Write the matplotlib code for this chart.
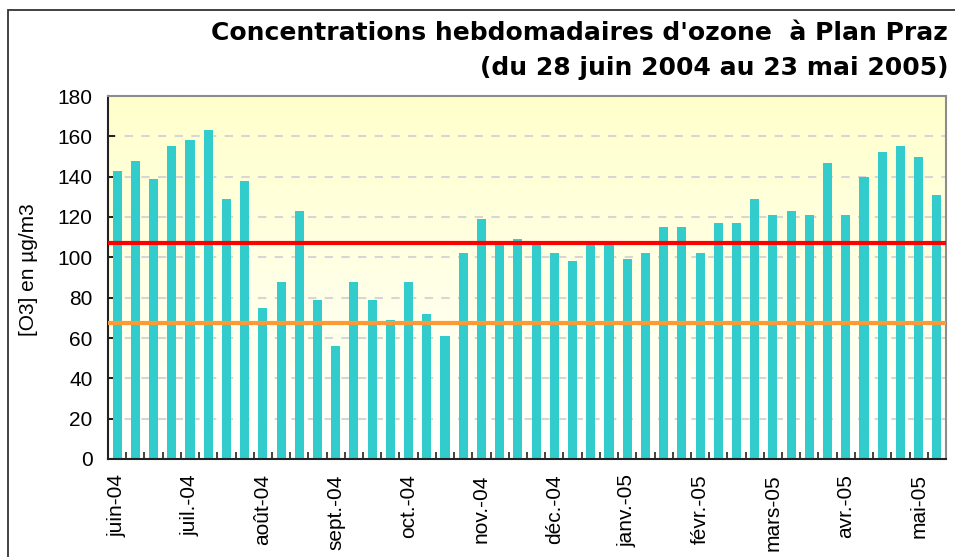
import numpy as np
import matplotlib
matplotlib.use("Agg")
import matplotlib.pyplot as plt
from matplotlib.patches import Rectangle
from matplotlib.colors import LinearSegmentedColormap

# concentrations hebdomadaires (µg/m3), du 28/06/2004 au 23/05/2005
valeurs = [143, 148, 139, 155, 158, 163, 129, 138, 75, 88, 123, 79, 56, 88,
           79, 69, 88, 72, 61, 102, 119, 106, 109, 106, 102, 98, 106, 106,
           99, 102, 115, 115, 102, 117, 117, 129, 121, 123, 121, 147, 121,
           140, 152, 155, 150, 131]
mois = ["juin-04", "juil.-04", "août-04", "sept.-04", "oct.-04", "nov.-04",
        "déc.-04", "janv.-05", "févr.-05", "mars-05", "avr.-05", "mai-05"]
seuil_haut = 107
seuil_bas = 67.5

plt.rcParams['font.family'] = ['Liberation Sans', 'DejaVu Sans']

W, H = 955, 557
fig = plt.figure(figsize=(W / 100, H / 100), dpi=100)

# cadre du graphique
fig.patches.append(Rectangle((8 / W, -0.1), 1.2, 1.1 - 10 / H, fill=False,
                             edgecolor="#333333", lw=1.3,
                             transform=fig.transFigure, zorder=0))

ax = fig.add_axes([108 / W, 1 - 459 / H, 838 / W, 363 / H])
n = len(valeurs)
x = np.arange(n)

# fond dégradé jaune -> blanc
cmap = LinearSegmentedColormap.from_list("fond", ["#FFFFFF", "#FFFFCC"])
grad = np.linspace(0, 1, 256).reshape(-1, 1)
ax.imshow(grad, cmap=cmap, origin="lower", aspect="auto",
          extent=(-0.5, n - 0.5, 0, 180), zorder=0)

ax.bar(x, valeurs, width=0.5, color="#33CCCC", zorder=2)
ax.axhline(seuil_haut, xmin=0, xmax=0.998, color="#FF0000", lw=3, zorder=3)
ax.axhline(seuil_bas, xmin=0, xmax=0.998, color="#FF9933", lw=3, zorder=3)

ax.set_xlim(-0.5, n - 0.5)
ax.set_ylim(0, 180)
ax.set_yticks(range(0, 181, 20))
ax.yaxis.grid(True, color="#D6D6D6", lw=1.5, linestyle=(0, (4, 4)))
ax.set_axisbelow(True)

ax.set_xticks(x[::4])
ax.set_xticklabels(mois, rotation=90)
ax.set_xticks(np.arange(-0.5, n, 1), minor=True)
ax.tick_params(axis="x", which="major", length=0, pad=11, labelsize=15)
ax.tick_params(axis="x", which="minor", direction="in", length=5,
               width=1.2, color="#222222")
ax.tick_params(axis="y", direction="in", length=5, width=1.2,
               labelsize=15, pad=11)

for s in ("left", "bottom"):
    ax.spines[s].set_color("#222222")
    ax.spines[s].set_linewidth(1.5)
for s in ("top", "right"):
    ax.spines[s].set_color("#8C8C8C")
    ax.spines[s].set_linewidth(1.5)

fig.text(28 / W, 1 - 270 / H, "[O3] en µg/m3", rotation=90, ha="center",
         va="center", fontsize=15)

fig.text(948 / W, 1 - 33 / H,
         "Concentrations hebdomadaires d'ozone  à Plan Praz",
         ha="right", va="center", fontsize=18, fontweight="bold",
         family="DejaVu Sans")
fig.text(948 / W, 1 - 68 / H, "(du 28 juin 2004 au 23 mai 2005)",
         ha="right", va="center", fontsize=18, fontweight="bold",
         family="DejaVu Sans")

fig.savefig("out.png", dpi=100)
